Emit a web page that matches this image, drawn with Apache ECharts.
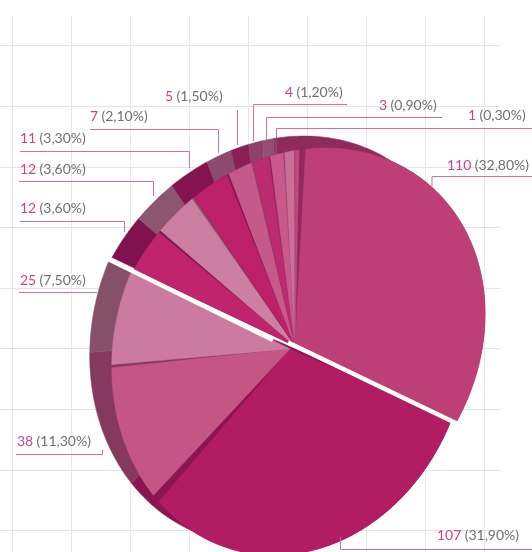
<!DOCTYPE html>
<html>
<head>
<meta charset="utf-8">
<style>
  html, body { margin: 0; padding: 0; background: #fff; }
  #chart { width: 532px; height: 552px; }
</style>
<script src="https://cdn.jsdelivr.net/npm/echarts@6/dist/echarts.min.js"></script>
</head>
<body>
<div id="chart"></div>
<script>
// clockwise from the top
const values = [110, 107, 38, 25, 12, 12, 11, 7, 5, 4, 3, 1];
const percents = ['32,80%', '31,90%', '11,30%', '7,50%', '3,60%', '3,60%', '3,30%', '2,10%', '1,50%', '1,20%', '0,90%', '0,30%'];
const faceColors = ['#BD3F76', '#B21C63', '#C45585', '#CC7A9F', '#C0246C', '#CC7FA2', '#BB2069', '#C55A8A', '#BC2A6F', '#C9598B', '#CB6E98', '#C4487E'];
const wallColors = ['#8E2A5C', '#8A1550', '#85395F', '#865068', '#80134D', '#8C5570', '#85134F', '#8E4A6C', '#8A1F58', '#8E4068', '#94506F', '#8E3A62'];

// layout: the pie is tilted, so each half gets its own projection of the circle
const upper = {cx: 295, cy: 346, a: 190, b: 4, d: -28, e: -196};
const lower = {cx: 290, cy: 349, a: 178, b: -10, d: -30, e: -204};
const halves = [upper, lower, lower, lower, upper, upper, upper, upper, upper, upper, upper, upper];
const wallShift = [-22, -12];
const insetStart = [2, 0, 0, 0, 0, 0, 0, 0, 0, 0, 0, 0];
const insetEnd = [-3, 2.6, 0.9, 0, 0.7, 0.7, 0.7, 0.6, 0.6, 0.5, 0.5, 0];

// layout: the white cut between the two halves
const cutPaths = [
  [[106, 258], [273, 340]],
  [[288, 342.5], [462, 426]]
];

// layout: label left edge / middle, then the leader line
const labelPos = [[447, 165], [437, 535], [17, 441], [20, 280], [20, 208], [20, 169], [20, 138], [90, 116], [165, 96], [285, 92], [379, 105], [468, 115]];
const leaderPaths = [
  [[532, 176.5], [432, 176.5], [432, 186]],
  [[532, 549.5], [340.5, 549.5], [340.5, 537]],
  [[16, 454.5], [102.5, 454.5], [102.5, 450]],
  [[19, 292.5], [97, 292.5]],
  [[20, 221.5], [124.5, 221.5], [124.5, 232]],
  [[19, 181.5], [153.5, 181.5], [153.5, 196]],
  [[20, 151.5], [189.5, 151.5], [189.5, 168]],
  [[90, 129.5], [218.5, 129.5], [218.5, 153]],
  [[237.5, 110], [237.5, 145]],
  [[347, 104.5], [253.5, 104.5], [253.5, 141]],
  [[442, 117.5], [266.5, 117.5], [266.5, 140]],
  [[532, 128.5], [276.5, 128.5], [276.5, 138]]
];

const total = values.reduce((s, v) => s + v, 0);
const startAngles = [];
values.reduce((s, v, i) => {
  startAngles[i] = s;
  return s + v / total * 360;
}, 0);

function project(h, deg) {
  const t = deg * Math.PI / 180;
  const s = Math.sin(t), u = Math.cos(t);
  return [h.cx + h.a * s + h.b * u, h.cy + h.d * s + h.e * u];
}

function slice(h, from, to, dx, dy) {
  const pts = [[h.cx + dx, h.cy + dy]];
  for (let d = from; ; d += 1) {
    const p = project(h, Math.min(d, to));
    pts.push([p[0] + dx, p[1] + dy]);
    if (d >= to) break;
  }
  return pts;
}

function sliceShape(points, color) {
  return {
    type: 'polygon',
    shape: {points: points},
    style: {fill: color, stroke: color, lineWidth: 0.5}
  };
}

const sliceData = values.map((v, i) => [v, i]);

const option = {
  animation: false,
  backgroundColor: '#fff',
  grid: {left: -47, top: 16, width: 547, height: 575, outerBoundsMode: 'none'},
  xAxis: {
    type: 'value', min: 0, max: 9.27, interval: 1,
    axisLine: {show: false}, axisTick: {show: false}, axisLabel: {show: false},
    splitLine: {show: true, showMaxLine: false, lineStyle: {color: '#e8e8e8', width: 1}}
  },
  yAxis: {
    type: 'value', min: 0, max: 9.49, interval: 1,
    axisLine: {show: false}, axisTick: {show: false}, axisLabel: {show: false},
    splitLine: {show: true, showMaxLine: false, lineStyle: {color: '#e4e4e4', width: 1}}
  },
  series: [
    {
      // outer walls go under every face
      type: 'custom',
      coordinateSystem: 'none',
      silent: true,
      data: sliceData,
      renderItem: function (params, api) {
        const i = api.value(1);
        const from = startAngles[i];
        const to = from + api.value(0) / total * 360;
        return sliceShape(slice(halves[i], from, to, wallShift[0], wallShift[1]), wallColors[i]);
      }
    },
    {
      type: 'custom',
      coordinateSystem: 'none',
      silent: true,
      data: sliceData,
      renderItem: function (params, api) {
        const i = api.value(1);
        const h = halves[i];
        const from = startAngles[i];
        const to = from + api.value(0) / total * 360;
        return {
          type: 'group',
          children: [
            sliceShape(slice(h, from, to - Math.min(insetEnd[i], 0), 0, 0), wallColors[i]),
            sliceShape(slice(h, from + insetStart[i], to - insetEnd[i], 0, 0), faceColors[i])
          ]
        };
      }
    },
    {
      type: 'custom',
      coordinateSystem: 'none',
      silent: true,
      data: cutPaths.map((p, i) => [i]),
      renderItem: function (params, api) {
        return {
          type: 'polyline',
          shape: {points: cutPaths[api.value(0)]},
          style: {fill: null, stroke: '#fff', lineWidth: 4.5}
        };
      }
    },
    {
      type: 'custom',
      coordinateSystem: 'none',
      silent: true,
      data: sliceData,
      renderItem: function (params, api) {
        const i = api.value(1);
        return {
          type: 'group',
          children: [
            {
              type: 'polyline',
              shape: {points: leaderPaths[i]},
              style: {fill: null, stroke: '#D070A5', lineWidth: 1}
            },
            {
              type: 'text',
              x: labelPos[i][0],
              y: labelPos[i][1],
              style: {
                text: '{n|' + api.value(0) + '} {p|(' + percents[i] + ')}',
                verticalAlign: 'middle',
                rich: {
                  n: {fill: '#C8478A', font: '14px Lato'},
                  p: {fill: '#707070', font: '14px Lato'}
                }
              }
            }
          ]
        };
      }
    }
  ]
};

const chart = echarts.init(document.getElementById('chart'), null, {renderer: 'canvas'});
chart.setOption(option);
</script>
</body>
</html>
